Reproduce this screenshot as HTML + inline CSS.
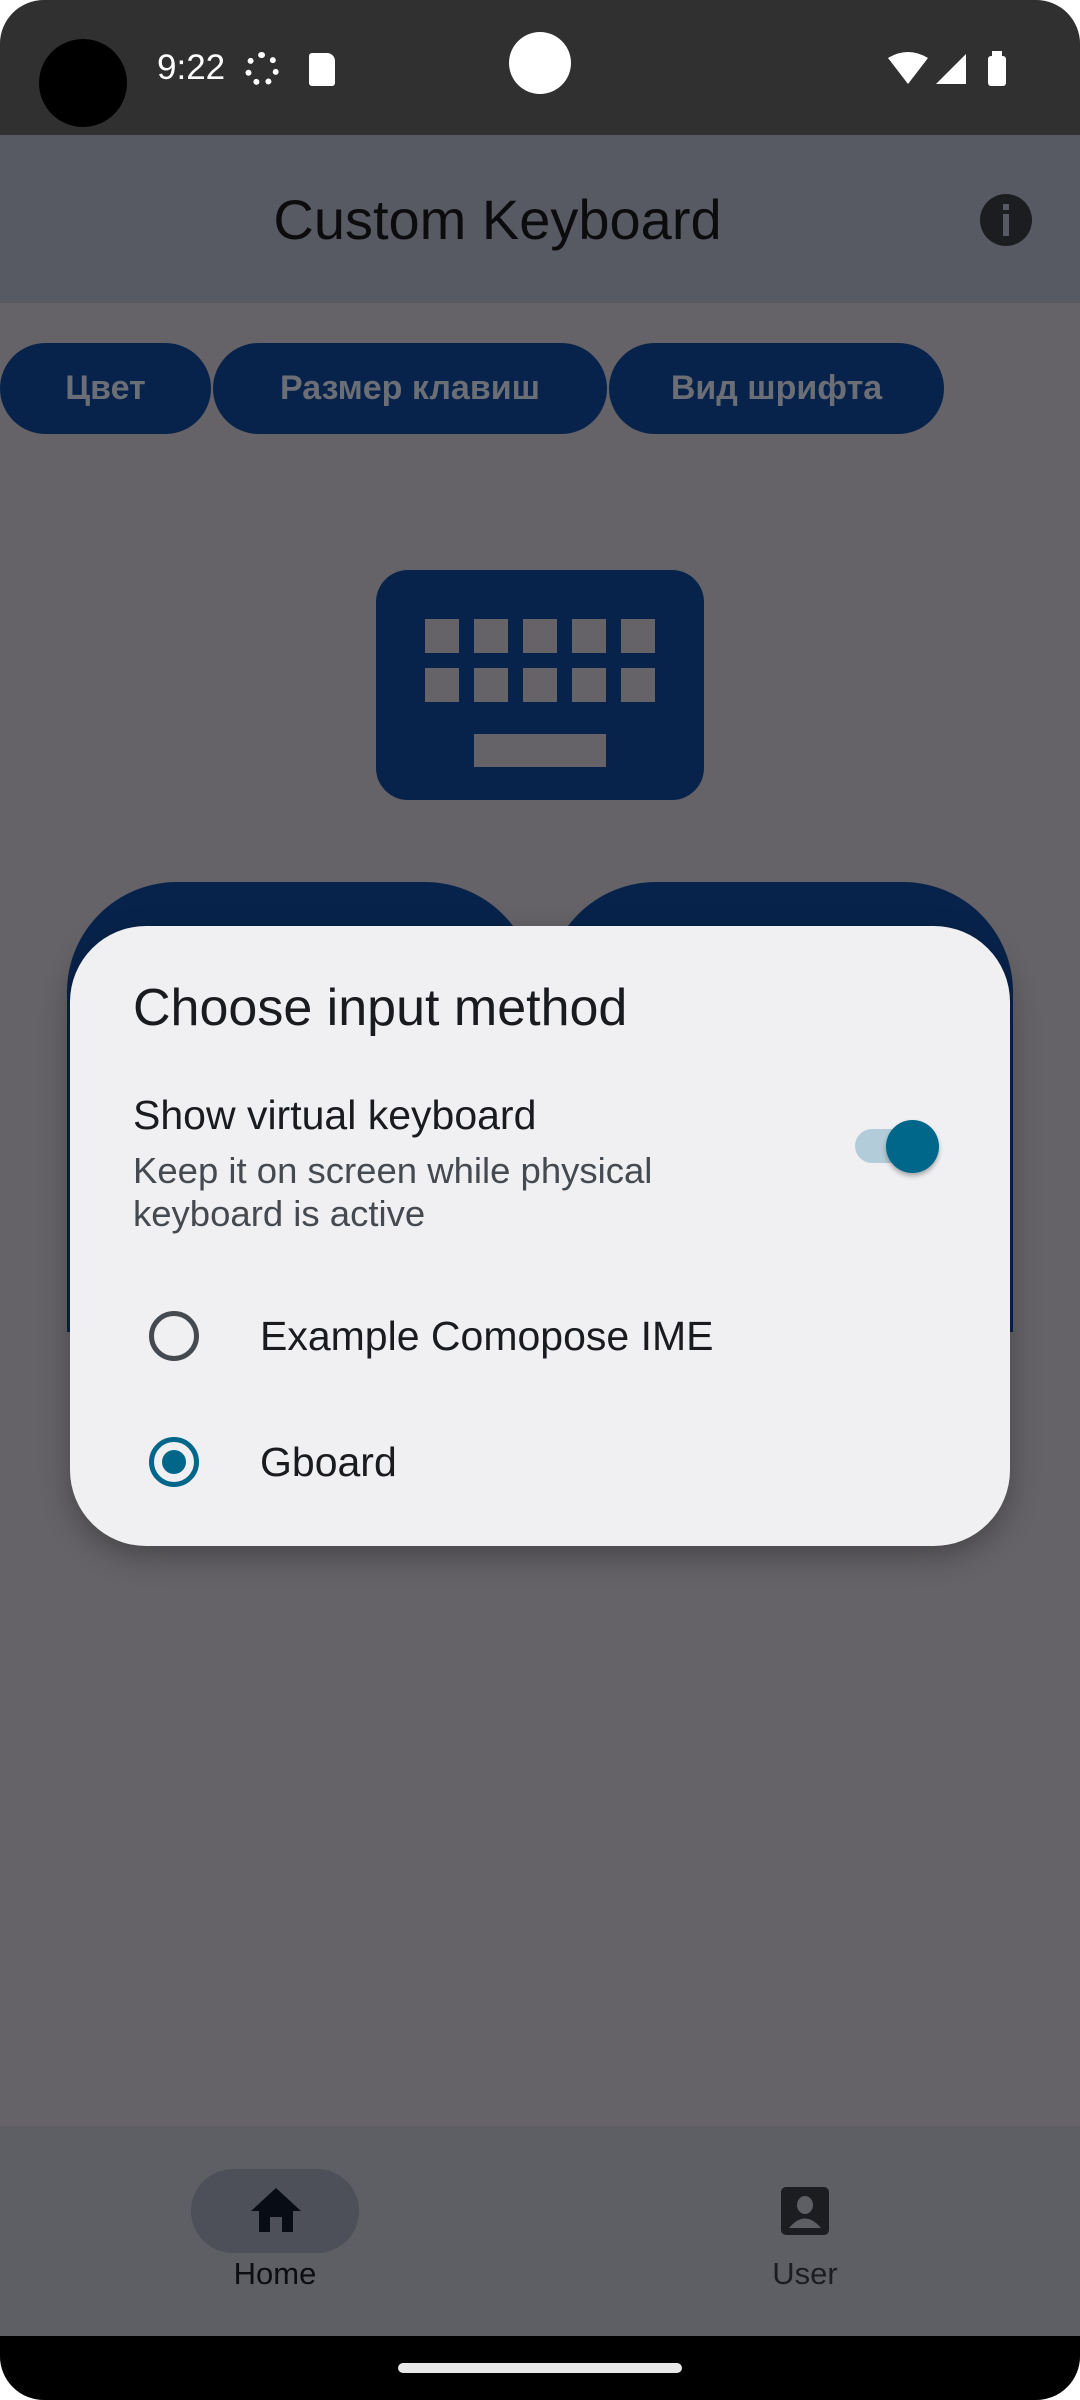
<!DOCTYPE html>
<html><head><meta charset="utf-8"><style>
*{margin:0;padding:0;box-sizing:border-box}
body{width:1080px;height:2400px;background:#fff;position:relative;overflow:hidden;font-family:"Liberation Sans","DejaVu Sans",sans-serif}
.phone{position:absolute;left:0;top:0;width:1080px;height:2400px;border-radius:44px;overflow:hidden;background:#656367}
.abs{position:absolute}
.chip{position:absolute;top:343px;height:91px;background:#08234b;border-radius:46px;color:#6b6e74;font-weight:bold;font-size:34px;display:flex;align-items:center;justify-content:center}
.key{position:absolute;background:#656367;width:34px;height:34px}
</style></head><body>
<div class="phone">
  <div class="abs" style="left:0;top:0;width:1080px;height:135px;background:#303030"></div>
  <div class="abs" style="left:39px;top:39px;width:88px;height:88px;border-radius:50%;background:#000"></div>
  <div class="abs" style="left:157px;top:48px;color:#fff;font-size:35px">9:22</div>
  <div class="abs" style="left:245px;top:52px;width:34px;height:34px;border-radius:50%;border:6px dotted #fff"></div>
  <div class="abs" style="left:309px;top:53px;width:26px;height:33px;background:#fff;border-radius:3px 8px 3px 3px"></div>
  <div class="abs" style="left:509px;top:32px;width:62px;height:62px;border-radius:50%;background:#fff"></div>
  <svg class="abs" style="left:888px;top:50px" width="130" height="38"><path d="M0 8 Q20 -4 40 8 L20 34Z" fill="#fff"/><path d="M48 34 L78 4 L78 34Z" fill="#fff"/><rect x="100" y="6" width="18" height="30" rx="3" fill="#fff"/><rect x="104" y="1" width="10" height="6" fill="#fff"/></svg>

  <div class="abs" style="left:0;top:135px;width:1080px;height:168px;background:#575a63"></div>
  <div class="abs" style="left:0;top:187px;width:995px;text-align:center;font-size:56px;color:#0c0c0e">Custom Keyboard</div>
  <div class="abs" style="left:980px;top:194px;width:52px;height:52px;border-radius:50%;background:#1c1d21"></div>
  <div class="abs" style="left:1003px;top:204px;width:6px;height:6px;background:#575a63"></div>
  <div class="abs" style="left:1003px;top:214px;width:6px;height:22px;background:#575a63"></div>

  <div class="chip" style="left:0;width:211px">Цвет</div>
  <div class="chip" style="left:213px;width:394px">Размер клавиш</div>
  <div class="chip" style="left:609px;width:335px">Вид шрифта</div>

  <div class="abs" style="left:376px;top:570px;width:328px;height:230px;border-radius:32px;background:#08234b"></div>
  <div class="key" style="left:425px;top:619px"></div><div class="key" style="left:474px;top:619px"></div><div class="key" style="left:523px;top:619px"></div><div class="key" style="left:572px;top:619px"></div><div class="key" style="left:621px;top:619px"></div>
  <div class="key" style="left:425px;top:668px"></div><div class="key" style="left:474px;top:668px"></div><div class="key" style="left:523px;top:668px"></div><div class="key" style="left:572px;top:668px"></div><div class="key" style="left:621px;top:668px"></div>
  <div class="key" style="left:474px;top:734px;width:132px;height:33px"></div>

  <div class="abs" style="left:67px;top:882px;width:468px;height:450px;border-radius:110px 110px 0 0;background:#08234b"></div>
  <div class="abs" style="left:546px;top:882px;width:467px;height:450px;border-radius:110px 110px 0 0;background:#08234b"></div>

  <div class="abs" style="left:70px;top:926px;width:940px;height:620px;border-radius:76px;background:#f0f0f3;box-shadow:0 10px 30px rgba(0,0,0,0.3)"></div>
  <div class="abs" style="left:133px;top:978px;font-size:52px;color:#1a1b1f">Choose input method</div>
  <div class="abs" style="left:133px;top:1092px;font-size:41px;color:#1a1b1f">Show virtual keyboard</div>
  <div class="abs" style="left:133px;top:1149px;font-size:36.5px;color:#454a50;line-height:43px">Keep it on screen while physical<br>keyboard is active</div>
  <div class="abs" style="left:855px;top:1129px;width:81px;height:34px;border-radius:17px;background:#b2cdd9"></div>
  <div class="abs" style="left:886px;top:1120px;width:53px;height:53px;border-radius:50%;background:#00668a;box-shadow:0 3px 5px rgba(0,0,0,0.3)"></div>

  <div class="abs" style="left:149px;top:1311px;width:50px;height:50px;border-radius:50%;border:5px solid #454a50"></div>
  <div class="abs" style="left:260px;top:1313px;font-size:41px;color:#1a1b1f">Example Comopose IME</div>
  <div class="abs" style="left:149px;top:1437px;width:50px;height:50px;border-radius:50%;border:5px solid #00668a"></div>
  <div class="abs" style="left:162px;top:1450px;width:24px;height:24px;border-radius:50%;background:#00668a"></div>
  <div class="abs" style="left:260px;top:1439px;font-size:41px;color:#1a1b1f">Gboard</div>

  <div class="abs" style="left:0;top:2126px;width:1080px;height:210px;background:#5e5f64"></div>
  <div class="abs" style="left:191px;top:2169px;width:168px;height:84px;border-radius:42px;background:#4d5058"></div>
  <svg class="abs" style="left:249px;top:2187px" width="54" height="46"><path d="M27 1 L52 24 L44 24 L44 45 L33 45 L33 30 L21 30 L21 45 L10 45 L10 24 L2 24Z" fill="#080c14"/></svg>
  <div class="abs" style="left:191px;top:2256px;width:168px;text-align:center;font-size:31px;color:#0c0d10">Home</div>
  <svg class="abs" style="left:781px;top:2187px" width="48" height="48"><rect x="0" y="0" width="48" height="48" rx="5" fill="#1c1d21"/><ellipse cx="24" cy="18" rx="8" ry="9" fill="#5e5f64"/><path d="M8 41 Q24 22 40 41Z" fill="#5e5f64"/></svg>
  <div class="abs" style="left:725px;top:2256px;width:160px;text-align:center;font-size:31px;color:#1c1d21">User</div>

  <div class="abs" style="left:0;top:2336px;width:1080px;height:64px;background:#000"></div>
  <div class="abs" style="left:398px;top:2363px;width:284px;height:10px;border-radius:5px;background:#e8e8e8"></div>
</div>
</body></html>
